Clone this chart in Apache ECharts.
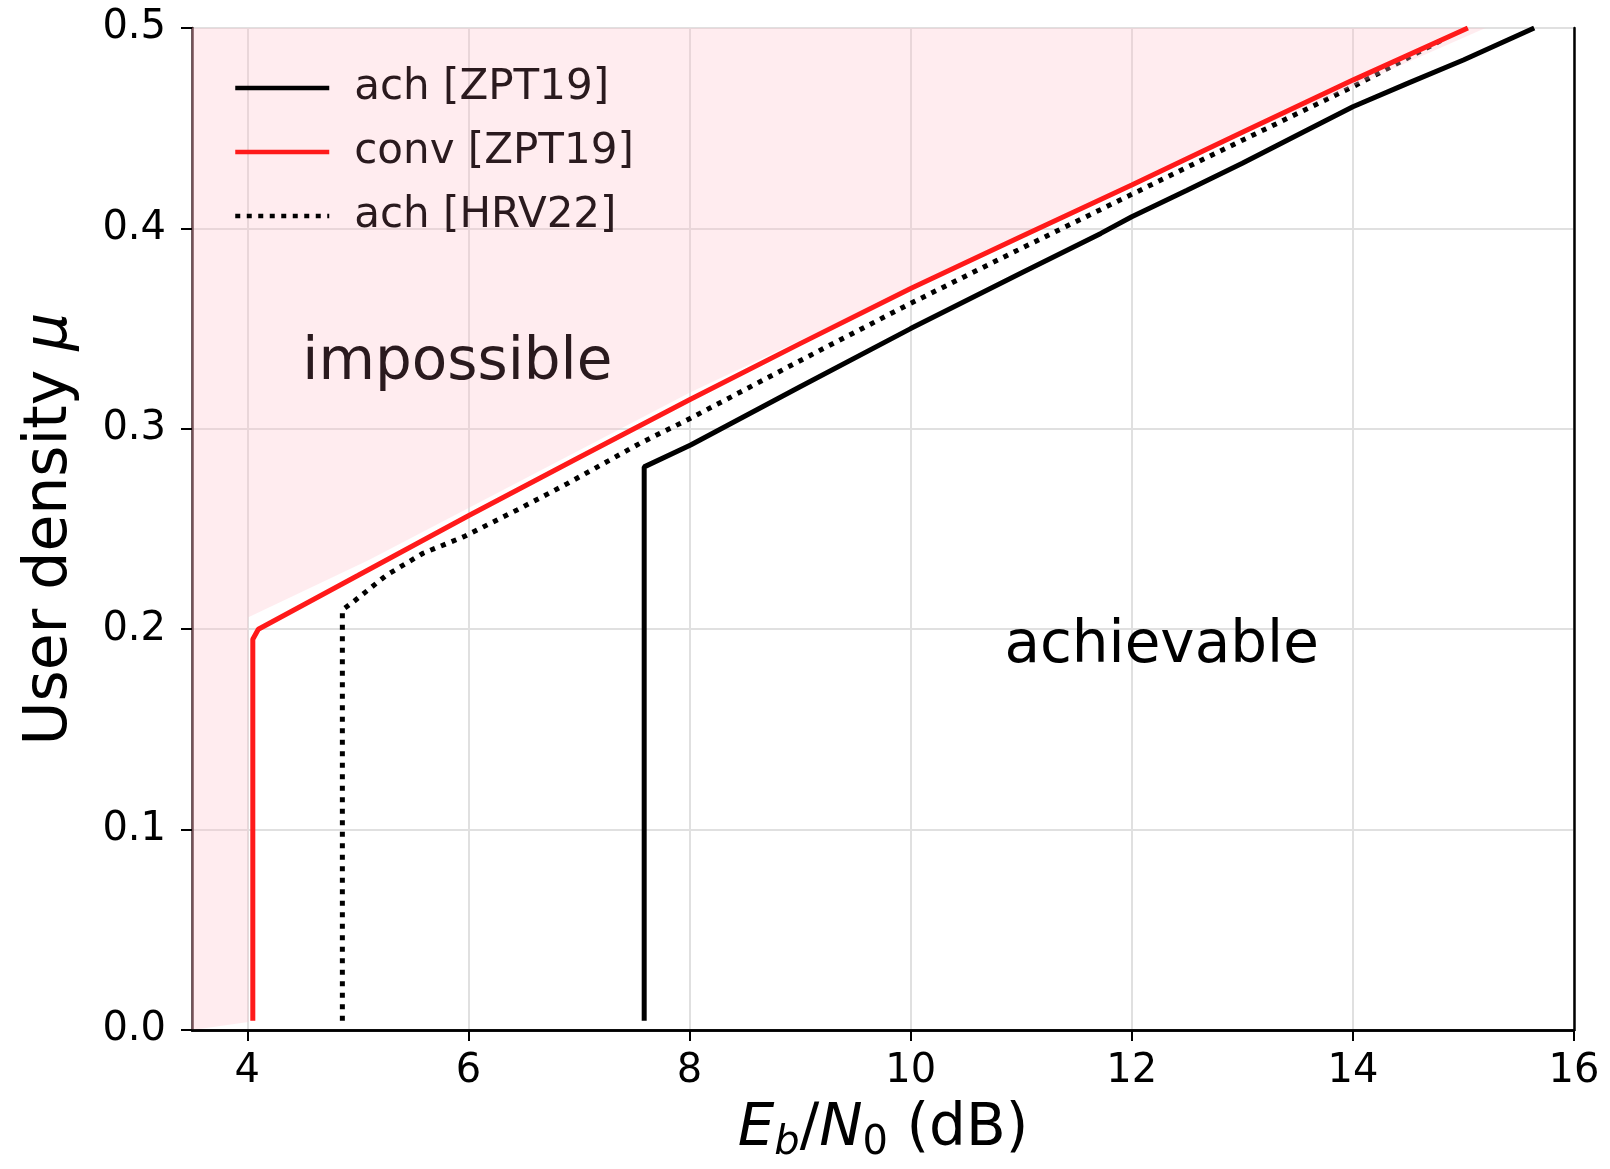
<!DOCTYPE html>
<html>
<head>
<meta charset="utf-8">
<title>User density vs Eb/N0</title>
<script src="https://cdn.jsdelivr.net/npm/echarts@6/dist/echarts.min.js"></script>
<style>
  html, body { margin: 0; padding: 0; background: #fff; }
  #chart { width: 1610px; height: 1169px; }
</style>
</head>
<body>
<div id="chart"></div>
<script>
// [Eb/N0 (dB), user density]
const achZPT19 = [
  [7.59, 0.0046], [7.59, 0.281], [8.01, 0.2919], [9, 0.321], [10, 0.35],
  [11, 0.3777], [11.72, 0.3975], [12, 0.4058], [12.5, 0.419], [13, 0.4325],
  [13.53, 0.4475], [14, 0.4607], [14.5, 0.4725], [15, 0.484], [15.64, 0.5]
]
const convZPT19 = [
  [4.05, 0.0046], [4.05, 0.195], [4.1, 0.2], [5, 0.2268], [6, 0.2566],
  [7, 0.2857], [8, 0.3145], [9, 0.3425], [10, 0.37], [11, 0.396],
  [12, 0.4217], [13, 0.448], [14, 0.474], [15.04, 0.5]
]
const achHRV22 = [
  [4.86, 0.0046], [4.86, 0.2096], [4.96, 0.2137], [5.26, 0.227], [5.59, 0.2379],
  [5.96, 0.2462], [6.44, 0.2595], [6.89, 0.2725], [7.55, 0.2927], [8, 0.305],
  [9, 0.334], [10, 0.3626], [11, 0.39], [12, 0.417], [13, 0.444],
  [14, 0.4707], [14.84, 0.495]
]
// lower edge of the shaded "impossible" region
const impossibleEdge = [
  [3.5, 0], [4.01, 0.004], [4.01, 0.206], [5.1, 0.2345], [8, 0.318],
  [12, 0.4225], [15.2, 0.5]
]
const regionLabels = [
  { name: 'impossible', value: [5.9, 0.3326] },
  { name: 'achievable', value: [12.27, 0.191] }
]
const xTicks = [4, 6, 8, 10, 12, 14, 16]

const chart = echarts.init(document.getElementById('chart'))
const FONT = 'DejaVu Sans'
const INK = '#2a1a1e'

chart.setOption({
  animation: false,
  textStyle: { fontFamily: FONT },
  grid: { left: 192, right: 36, top: 28, bottom: 139, outerBoundsMode: 'none', containLabel: false },
  legend: {
    data: ['ach [ZPT19]', 'conv [ZPT19]', 'ach [HRV22]'],
    orient: 'vertical',
    left: 228,
    top: 51,
    itemGap: 0,
    itemWidth: 94,
    itemHeight: 14,
    itemStyle: { opacity: 0 },
    lineStyle: { width: 4.5 },
    textStyle: {
      fontFamily: FONT,
      fontSize: 42,
      color: INK,
      lineHeight: 64,
      padding: [0, 0, 0, 20]
    }
  },
  xAxis: [
    {
      type: 'value',
      min: 3.5,
      max: 16,
      name: '{i|E}{si|b}{n|/}{i|N}{s|0}{n| (dB)}',
      nameLocation: 'middle',
      nameGap: 66,
      nameTextStyle: {
        rich: {
          i: { fontFamily: FONT, fontSize: 58, fontStyle: 'italic', color: '#000', lineHeight: 68 },
          n: { fontFamily: FONT, fontSize: 58, color: '#000', lineHeight: 68 },
          s: { fontFamily: FONT, fontSize: 40, color: '#000', verticalAlign: 'bottom', lineHeight: 40 },
          si: { fontFamily: FONT, fontSize: 40, fontStyle: 'italic', color: '#000', verticalAlign: 'bottom', lineHeight: 40 }
        }
      },
      axisLine: { lineStyle: { color: '#000', width: 2.5 } },
      axisTick: { customValues: xTicks, length: 11, lineStyle: { color: '#000', width: 2 } },
      axisLabel: { customValues: xTicks, fontSize: 40, color: '#000', margin: 22 },
      splitLine: { show: true, lineStyle: { color: '#e0e0e0', width: 2 } }
    },
    {
      type: 'value',
      position: 'top',
      min: 3.5,
      max: 16,
      z: 10,
      axisLine: { show: true, lineStyle: { color: '#000', width: 2.5 } },
      axisTick: { show: false },
      axisLabel: { show: false },
      splitLine: { show: false }
    }
  ],
  yAxis: [
    {
      type: 'value',
      min: 0,
      max: 0.5,
      interval: 0.1,
      name: 'User density {m|μ}',
      nameLocation: 'middle',
      nameGap: 112,
      nameTextStyle: {
        fontFamily: FONT,
        fontSize: 60,
        color: '#000',
        rich: { m: { fontFamily: FONT, fontSize: 60, fontStyle: 'italic', color: '#000' } }
      },
      axisLine: { show: true, lineStyle: { color: '#3a2226', width: 2.5 } },
      axisTick: { show: true, length: 11, lineStyle: { color: '#000', width: 2 } },
      axisLabel: {
        fontSize: 40,
        color: '#000',
        margin: 26,
        formatter: v => v.toFixed(1)
      },
      splitLine: { show: true, lineStyle: { color: '#e0e0e0', width: 2 } }
    },
    {
      type: 'value',
      position: 'right',
      min: 0,
      max: 0.5,
      z: 10,
      axisLine: { show: true, lineStyle: { color: '#000', width: 2.5 } },
      axisTick: { show: false },
      axisLabel: { show: false },
      splitLine: { show: false }
    }
  ],
  series: [
    {
      name: 'ach [ZPT19]',
      type: 'line',
      data: achZPT19,
      symbol: 'none',
      z: 2,
      color: '#000',
      lineStyle: { color: '#000', width: 5 }
    },
    {
      name: 'ach [HRV22]',
      type: 'line',
      data: achHRV22,
      symbol: 'none',
      z: 2,
      color: '#000',
      lineStyle: { color: '#000', width: 5, type: [5, 6.5] }
    },
    {
      name: 'impossible region',
      type: 'line',
      data: impossibleEdge,
      symbol: 'none',
      silent: true,
      z: 3,
      lineStyle: { width: 0 },
      areaStyle: { origin: 'end', color: 'rgba(255, 192, 203, 0.43)' }
    },
    {
      name: 'conv [ZPT19]',
      type: 'line',
      data: convZPT19,
      symbol: 'none',
      z: 4,
      color: '#ff1a1a',
      lineStyle: { color: '#ff1a1a', width: 5 }
    },
    {
      name: 'regions',
      type: 'scatter',
      data: regionLabels,
      symbolSize: 2,
      silent: true,
      z: 5,
      itemStyle: { color: 'rgba(0,0,0,0)', opacity: 1 },
      label: {
        show: true,
        position: 'inside',
        opacity: 1,
        formatter: p => (p.name === 'impossible' ? '{a|' : '{b|') + p.name + '}',
        textBorderWidth: 0,
        rich: {
          a: { fontFamily: FONT, fontSize: 58, color: INK, textBorderWidth: 0 },
          b: { fontFamily: FONT, fontSize: 58, color: '#000', textBorderWidth: 0 }
        }
      }
    }
  ]
})
</script>
</body>
</html>
